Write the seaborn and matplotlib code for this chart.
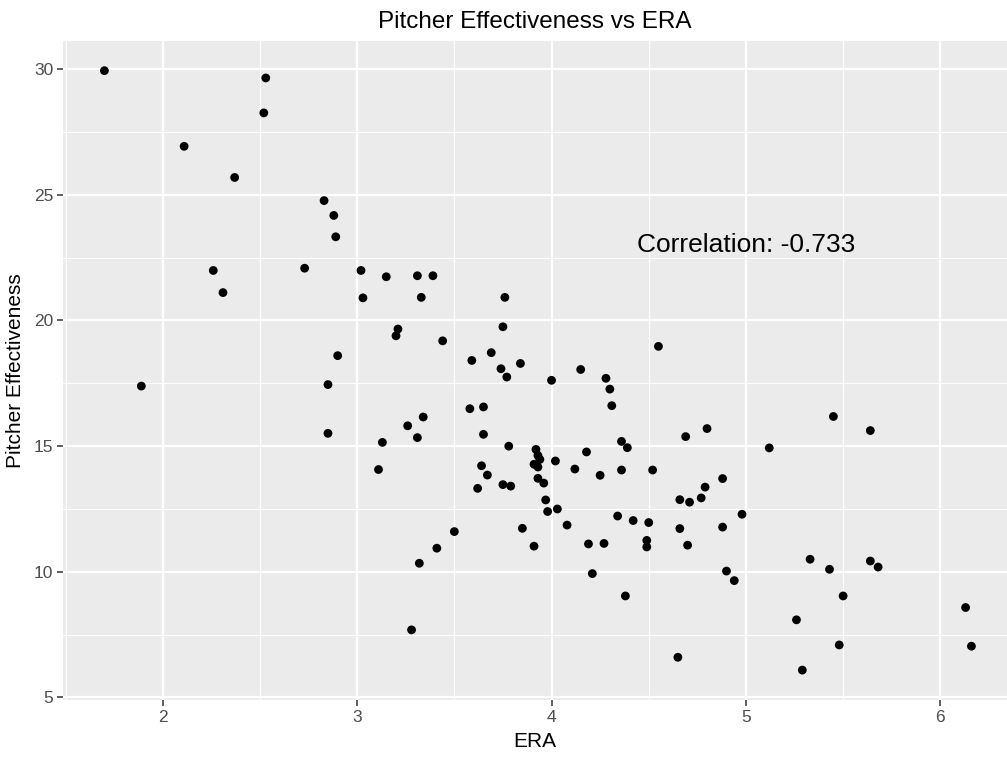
import numpy as np
import pandas as pd
import matplotlib
matplotlib.use("Agg")
import matplotlib.pyplot as plt
import seaborn as sns

# --- data ---
era = [1.70, 2.53, 2.52, 2.11, 2.37, 2.83, 2.88, 2.89, 2.73, 3.02,
       3.03, 3.15, 3.31, 3.39, 3.33, 3.76, 3.21, 3.20, 3.44, 3.75,
       2.90, 3.69, 3.59, 3.84, 3.74, 3.77, 4.15, 4.00, 4.28, 4.30,
       4.31, 2.85, 3.58, 3.65, 3.34, 2.85, 3.13, 3.11, 3.26, 3.31,
       3.65, 3.78, 3.92, 3.93, 3.94, 3.91, 3.93, 4.02, 4.18, 4.12,
       4.25, 4.36, 4.39, 4.36, 3.64, 3.67, 3.93, 3.96, 3.75, 3.79,
       3.62, 3.97, 4.03, 3.98, 4.08, 4.34, 3.85, 3.50, 3.41, 3.32,
       3.91, 4.19, 4.27, 4.21, 3.28, 4.55, 5.45, 5.64, 4.80, 4.69,
       5.12, 4.52, 4.88, 4.79, 4.77, 4.66, 4.71, 4.98, 4.42, 4.50,
       4.66, 4.88, 4.49, 4.49, 4.70, 4.38, 4.90, 4.94, 5.33, 5.43,
       5.64, 5.68, 5.50, 5.26, 6.13, 5.48, 6.16, 4.65, 5.29, 2.26,
       2.31, 1.89]
effectiveness = [29.94, 29.65, 28.26, 26.93, 25.69, 24.77, 24.18, 23.33, 22.08, 21.99,
                 20.90, 21.74, 21.78, 21.78, 20.92, 20.92, 19.66, 19.39, 19.19, 19.75,
                 18.60, 18.72, 18.41, 18.29, 18.08, 17.75, 18.05, 17.62, 17.70, 17.27,
                 16.61, 17.45, 16.49, 16.56, 16.16, 15.51, 15.15, 14.07, 15.81, 15.34,
                 15.47, 15.00, 14.87, 14.63, 14.47, 14.28, 14.17, 14.41, 14.77, 14.09,
                 13.84, 15.19, 14.94, 14.05, 14.22, 13.85, 13.72, 13.53, 13.47, 13.41,
                 13.32, 12.86, 12.50, 12.40, 11.86, 12.22, 11.73, 11.60, 10.94, 10.34,
                 11.02, 11.11, 11.13, 9.93, 7.69, 18.97, 16.18, 15.62, 15.70, 15.38,
                 14.93, 14.05, 13.71, 13.37, 12.94, 12.87, 12.77, 12.29, 12.04, 11.96,
                 11.72, 11.78, 11.25, 10.99, 11.06, 9.04, 10.03, 9.65, 10.50, 10.10,
                 10.43, 10.19, 9.04, 8.09, 8.58, 7.09, 7.04, 6.60, 6.09, 21.99,
                 21.11, 17.39]
x_ticks = [2, 3, 4, 5, 6]
y_ticks = [5, 10, 15, 20, 25, 30]
corr_label = "Correlation: -0.733"

df = pd.DataFrame({"ERA": era, "Pitcher Effectiveness": effectiveness})

# ggplot-like grey theme
sns.set_theme(style="darkgrid", rc={
    "axes.facecolor": "#EBEBEB",
    "grid.color": "white",
    "figure.facecolor": "white",
    "xtick.bottom": True,
    "ytick.left": True,
})
plt.rcParams["font.family"] = ["Liberation Sans", "DejaVu Sans"]

fig = plt.figure(figsize=(10.07, 7.57), dpi=100)
ax = fig.add_axes([63 / 1007, 57 / 757, 944 / 1007, 659 / 757])

sns.scatterplot(data=df, x="ERA", y="Pitcher Effectiveness", ax=ax,
                color="black", s=40, edgecolor="none", zorder=3)

ax.set_xlim(1.487, 6.343)
ax.set_ylim(4.9, 31.12)
ax.set_xticks(x_ticks)
ax.set_yticks(y_ticks)
ax.set_xticks(np.arange(1.5, 6.5, 1.0), minor=True)
ax.set_yticks(np.arange(7.5, 31, 5.0), minor=True)
ax.grid(which="major", color="white", linewidth=1.6)
ax.grid(which="minor", color="white", linewidth=0.8)
ax.tick_params(which="major", bottom=True, left=True, length=4, width=1.1,
               color="#333333", labelsize=12.5, labelcolor="#4D4D4D", pad=3)
ax.tick_params(which="minor", length=0)
for sp in ax.spines.values():
    sp.set_visible(False)

ax.set_xlabel("ERA", fontsize=15, color="black", labelpad=5)
ax.set_ylabel("Pitcher Effectiveness", fontsize=15, color="black", labelpad=6)
ax.set_title("Pitcher Effectiveness vs ERA", fontsize=17.5, color="black", pad=9)

ax.text(5, 23, corr_label, ha="center", va="center", fontsize=19, color="black")

fig.savefig("out.png", dpi=100)
